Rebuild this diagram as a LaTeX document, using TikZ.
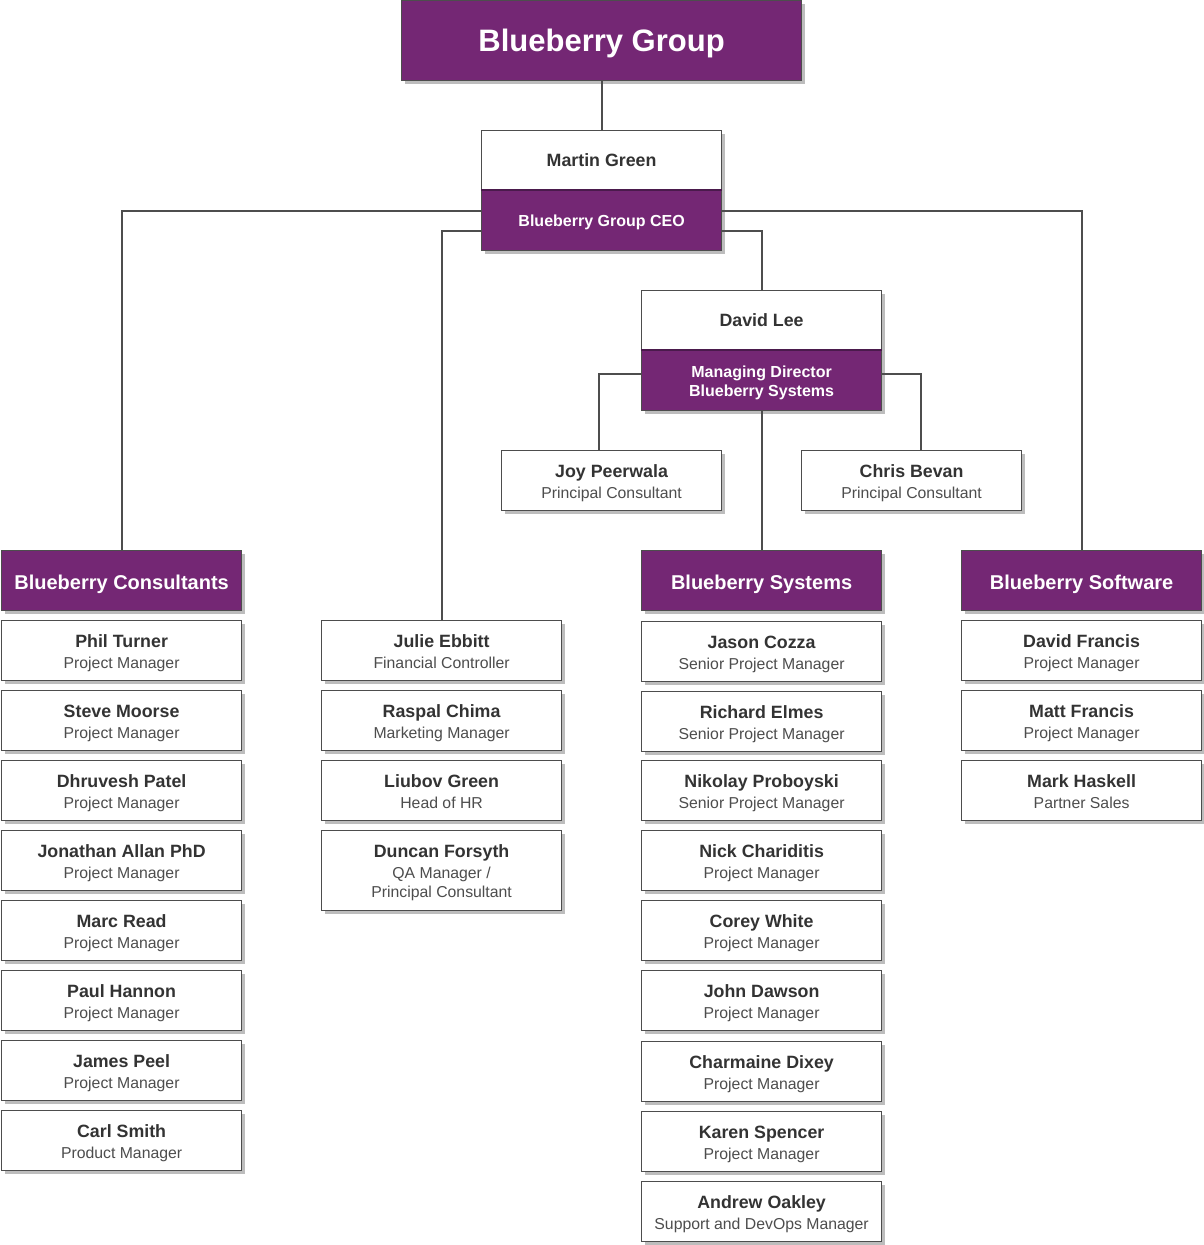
\documentclass[tikz,border=0pt]{standalone}
\usepackage{fontspec}
\setmainfont{Liberation Sans}
\usetikzlibrary{calc,shadows}
\definecolor{berry}{HTML}{742774}
\definecolor{berrydark}{HTML}{4A1A4C}
\definecolor{edgec}{HTML}{4D4D4D}
\definecolor{namec}{HTML}{333333}
\definecolor{rolec}{HTML}{4D4D4D}
\definecolor{shade}{HTML}{BDBDBD}
\newcommand\dstrut{\rule[-3.5pt]{0pt}{3.5pt}}
\newcommand\pnm[2]{{\fontsize{17.8}{21}\selectfont\bfseries\rule{0pt}{18.5pt}#1}\\{\color{rolec}#2\dstrut}}
\tikzset{
  box/.style={draw=edgec, line width=1.2pt, anchor=north west, inner sep=0pt, align=center,
    drop shadow={shadow xshift=3pt, shadow yshift=-3pt, fill=shade, opacity=1}},
  person/.style={box, fill=white, minimum width=240pt, minimum height=60pt, text=namec,
    font=\fontsize{15.8}{21}\selectfont},
  smallperson/.style={person, minimum width=220pt},
  header/.style={box, fill=berry, minimum width=240pt, minimum height=60pt, text=white,
    font=\fontsize{20}{24}\selectfont\bfseries},
  rolebox/.style={box, fill=berry, minimum width=240pt, minimum height=60pt, text=white,
    font=\fontsize{16}{19}\selectfont\bfseries},
  namebox/.style={box, fill=white, minimum width=240pt, minimum height=60pt, text=namec,
    font=\fontsize{17.8}{21}\selectfont\bfseries},
  conn/.style={draw=edgec, line width=1.8pt},
}
\begin{document}
\begin{tikzpicture}[x=1pt,y=-1pt]
\useasboundingbox (0,0) rectangle (1203,1245);
% top
\node[box, fill=berry, minimum width=400pt, minimum height=80pt, text=white,
  font=\fontsize{31}{36}\selectfont\bfseries] (top) at (401,0) {\rule{0pt}{28.6pt}Blueberry Group};
\node[namebox] (martin) at (481,130) {Martin Green};
\node[rolebox] (ceo) at (481,190) {\rule{0pt}{15.7pt}Blueberry Group CEO};
\draw[berrydark, line width=2.5pt] (ceo.north west) -- (ceo.north east);
\node[namebox] (david) at (641,290) {David Lee};
\node[rolebox] (md) at (641,350) {\rule{0pt}{15.7pt}Managing Director\\Blueberry Systems};
\draw[berrydark, line width=2.5pt] (md.north west) -- (md.north east);
\node[smallperson] (joy) at (501,450) {{\fontsize{17.8}{21}\selectfont\bfseries\rule{0pt}{19pt}Joy Peerwala}\\{\color{rolec}Principal Consultant\dstrut}};
\node[smallperson] (chris) at (801,450) {{\fontsize{17.8}{21}\selectfont\bfseries\rule{0pt}{19pt}Chris Bevan}\\{\color{rolec}Principal Consultant\dstrut}};
% headers
\node[header] (cons) at (1,550) {\rule{0pt}{22.5pt}Blueberry Consultants};
\node[header] (sys) at (641,550) {\rule{0pt}{21.5pt}Blueberry Systems};
\node[header] (soft) at (961,550) {\rule{0pt}{21.5pt}Blueberry Software};
% consultants column
\node[person] (c1) at (1,620) {\pnm{Phil Turner}{Project Manager}};
\node[person] (c2) at (1,690) {\pnm{Steve Moorse}{Project Manager}};
\node[person] (c3) at (1,760) {\pnm{Dhruvesh Patel}{Project Manager}};
\node[person] (c4) at (1,830) {\pnm{Jonathan Allan PhD}{Project Manager}};
\node[person] (c5) at (1,900) {\pnm{Marc Read}{Project Manager}};
\node[person] (c6) at (1,970) {\pnm{Paul Hannon}{Project Manager}};
\node[person] (c7) at (1,1040) {\pnm{James Peel}{Project Manager}};
\node[person] (c8) at (1,1110) {\pnm{Carl Smith}{Product Manager}};
% middle column
\node[person] (m1) at (321,620) {\pnm{Julie Ebbitt}{Financial Controller}};
\node[person] (m2) at (321,690) {\pnm{Raspal Chima}{Marketing Manager}};
\node[person] (m3) at (321,760) {\pnm{Liubov Green}{Head of HR}};
\node[person, minimum height=80pt] (m4) at (321,830) {{\fontsize{17.8}{21}\selectfont\bfseries\rule{0pt}{17pt}Duncan Forsyth}\\{\color{rolec}QA Manager /}\\[-2pt]{\color{rolec}Principal Consultant\dstrut}};
% systems column
\node[person] (s1) at (641,621) {\pnm{Jason Cozza}{Senior Project Manager}};
\node[person] (s2) at (641,691) {\pnm{Richard Elmes}{Senior Project Manager}};
\node[person] (s3) at (641,760) {\pnm{Nikolay Proboyski}{Senior Project Manager}};
\node[person] (s4) at (641,830) {\pnm{Nick Chariditis}{Project Manager}};
\node[person] (s5) at (641,900) {\pnm{Corey White}{Project Manager}};
\node[person] (s6) at (641,970) {\pnm{John Dawson}{Project Manager}};
\node[person] (s7) at (641,1041) {\pnm{Charmaine Dixey}{Project Manager}};
\node[person] (s8) at (641,1111) {\pnm{Karen Spencer}{Project Manager}};
\node[person] (s9) at (641,1181) {\pnm{Andrew Oakley}{Support and DevOps Manager}};
% software column
\node[person] (w1) at (961,620) {\pnm{David Francis}{Project Manager}};
\node[person] (w2) at (961,690) {\pnm{Matt Francis}{Project Manager}};
\node[person] (w3) at (961,760) {\pnm{Mark Haskell}{Partner Sales}};
% connectors
\draw[conn] (top.south) -- (top.south |- martin.north);
\draw[conn] ($(ceo.west)+(0,-10)$) -| (cons.north);
\draw[conn] ($(ceo.east)+(0,-10)$) -| (soft.north);
\draw[conn] ($(ceo.west)+(0,10)$) -| (m1.north);
\draw[conn] ($(ceo.east)+(0,10)$) -| (david.north);
\draw[conn] ($(md.west)+(0,-7)$) -| ($(joy.north)+(-13,0)$);
\draw[conn] ($(md.east)+(0,-7)$) -| ($(chris.north)+(9,0)$);
\draw[conn] (md.south) -- (sys.north);
\end{tikzpicture}
\end{document}
